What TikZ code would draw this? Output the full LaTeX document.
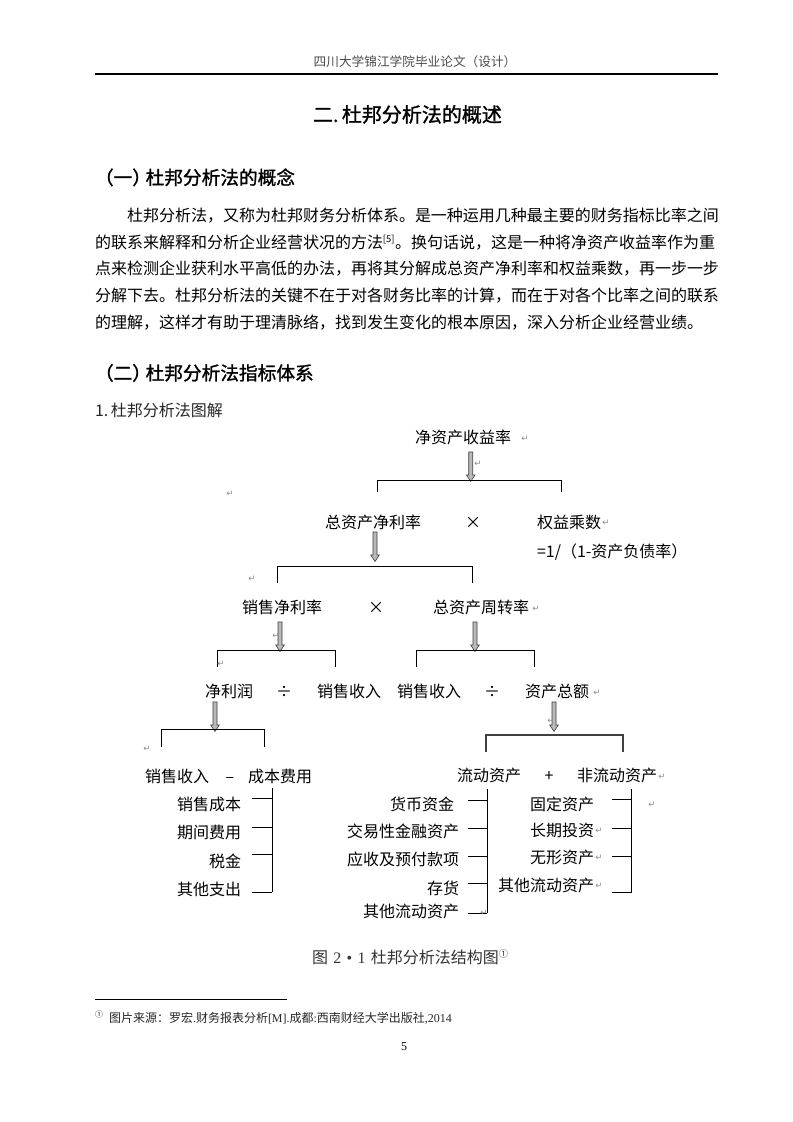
\documentclass[tikz,border=0pt]{standalone}
\usepackage{fontspec}
\setmainfont{Noto Sans CJK SC}
\newfontfamily\hei[FakeBold=1.3]{Noto Sans CJK SC}
\newfontfamily\dv{DejaVu Sans}
\newfontfamily\lserif{Liberation Serif}
\newcommand\setfs[1]{\fontsize{#1}{#1}\selectfont}
\tikzset{
  tx/.style={inner sep=0pt, outer sep=0pt},
  lt/.style={tx, anchor=base west, font=\setfs{12}},
  rt/.style={tx, anchor=base east, font=\setfs{12}},
  ct/.style={tx, anchor=base, font=\setfs{12}},
  body/.style={tx, anchor=base west, font=\setfs{12}},
  head/.style={tx, anchor=base west, font=\hei\setfs{14}},
  rm/.style={tx, anchor=center, font=\dv\setfs{6.5}, text=black!45},
  ln/.style={line width=0.75pt, draw=black},
  harrow/.pic={\filldraw[fill=gray!55, draw=black!75, line width=0.45pt]
     (-2,0) -- (-2,23) -- (-4.3,23) -- (0,29.5) -- (4.3,23) -- (2,23) -- (2,0) -- cycle;}
}
\begin{document}
\begin{tikzpicture}[x=0.75pt, y=-0.75pt]
\useasboundingbox (0,0) rectangle (793,1122);
\fill[white] (0,0) rectangle (793,1122);

% ---------- page header ----------
\node[tx, anchor=base, font=\setfs{9.5}, text=black!70] (hdr) at (415,66.5) {四川大学锦江学院毕业论文（设计）};
\coordinate (hrL) at (95,74);
\coordinate (hrR) at (718,74);
\draw[line width=0.8pt] (hrL) -- (hrR);

% ---------- title and headings ----------
\node[tx, anchor=base west, font=\hei\setfs{15}] (title) at (313,122) {二.\,杜邦分析法的概述};
\node[head] (h1) at (95,184.5) {（一）\hspace{-4pt}杜邦分析法的概念};
\node[body] (p1) at (127,221.5) {杜邦分析法，又称为杜邦财务分析体系。是一种运用几种最主要的财务指标比率之间};
\node[body] (p2) at (95,248) {的联系来解释和分析企业经营状况的方法\textsuperscript{\setfs{7}[5]}。换句话说，这是一种将净资产收益率作为重};
\node[body] (p3) at (95,274.5) {点来检测企业获利水平高低的办法，再将其分解成总资产净利率和权益乘数，再一步一步};
\node[body] (p4) at (95,301) {分解下去。杜邦分析法的关键不在于对各财务比率的计算，而在于对各个比率之间的联系};
\node[body] (p5) at (95,328) {的理解，这样才有助于理清脉络，找到发生变化的根本原因，深入分析企业经营业绩。};
\node[head] (h2) at (95,380) {（二）\hspace{-4pt}杜邦分析法指标体系};
\node[body, text=black!85] (h3) at (95,416.5) {1.\,杜邦分析法图解};

% ---------- level 0 ----------
\node[lt] (roe) at (415,443) {净资产收益率};
\pic at (470.7,452) {harrow};
\draw[ln] (377,492) -- (377,480) -- (561,480) -- (561,492);

% ---------- level 1 ----------
\node[lt] (roa) at (325,528) {总资产净利率};
\node[ct] (x1) at (473,528) {×};
\node[lt] (em) at (537,528) {权益乘数};
\node[lt] (emf) at (537,557) {=1/（1-资产负债率）};
\pic at (375,532) {harrow};
\draw[ln] (277,583) -- (277,566) -- (472,566) -- (472,583);

% ---------- level 2 ----------
\node[lt] (npm) at (242,613) {销售净利率};
\node[ct] (x2) at (376,613) {×};
\node[lt] (tat) at (433,613) {总资产周转率};
\pic at (280,622) {harrow};
\pic at (475,622) {harrow};
\draw[ln] (217,667) -- (217,650) -- (335,650) -- (335,667);
\draw[ln] (416,667) -- (416,650) -- (534,650) -- (534,667);

% ---------- level 3 ----------
\node[lt] (np) at (205,697) {净利润};
\node[ct] (d1) at (284,697) {÷};
\node[lt] (s1) at (317,697) {销售收入};
\node[lt] (s2) at (397,697) {销售收入};
\node[ct] (d2) at (492,697) {÷};
\node[lt] (ta) at (525,697) {资产总额};
\pic at (215,702) {harrow};
\pic at (554,702) {harrow};
\draw[ln] (161,747) -- (161,729) -- (264,729) -- (264,747);
\draw[line width=1.5pt, draw=black!75] (486,752) -- (486,735) -- (623,735) -- (623,752);

% ---------- level 4 ----------
\node[lt] (s3) at (145,782) {销售收入};
\node[ct] (m1) at (230,782) {–};
\node[lt] (cost) at (248,782) {成本费用};
\node[lt] (ca) at (457,781) {流动资产};
\node[ct] (p) at (549,781) {+};
\node[lt] (nca) at (577,781) {非流动资产};

% cost items
\node[rt] (c1) at (241,810) {销售成本};
\node[rt] (c2) at (241,838) {期间费用};
\node[rt] (c3) at (241,867) {税金};
\node[rt] (c4) at (241,895) {其他支出};
\draw[ln] (272,788) -- (272,892);
\draw[ln] (252,798) -- (272,798);
\draw[ln] (252,827) -- (272,827);
\draw[ln] (252,854) -- (272,854);
\draw[ln] (252,892) -- (272,892);

% current assets
\node[rt] (a1) at (454,810) {货币资金};
\node[rt] (a2) at (459,837) {交易性金融资产};
\node[rt] (a3) at (459,865) {应收及预付款项};
\node[rt] (a4) at (459,894) {存货};
\node[rt] (a5) at (459,917) {其他流动资产};
\draw[ln] (487,789) -- (487,913);
\draw[ln] (468,800) -- (487,800);
\draw[ln] (468,828) -- (487,828);
\draw[ln] (468,856) -- (487,856);
\draw[ln] (468,883) -- (487,883);
\draw[ln] (468,913) -- (487,913);

% non-current assets
\node[rt] (b1) at (594,810) {固定资产};
\node[rt] (b2) at (594,836) {长期投资};
\node[rt] (b3) at (594,863) {无形资产};
\node[rt] (b4) at (594,891) {其他流动资产};
\draw[ln] (631,789) -- (631,893);
\draw[ln] (612,799) -- (631,799);
\draw[ln] (612,828) -- (631,828);
\draw[ln] (612,856) -- (631,856);
\draw[ln] (612,892) -- (631,892);

% paragraph marks
\node[rm] (r1) at (525,439) {↵};
\node[rm] (r2) at (478,464) {↵};
\node[rm] (r3) at (230,494) {↵};
\node[rm] (r4) at (606,523) {↵};
\node[rm] (r5) at (252,579) {↵};
\node[rm] (r6) at (536,609) {↵};
\node[rm] (r7) at (276,636) {↵};
\node[rm] (r8) at (221,664) {↵};
\node[rm] (r9) at (597,693) {↵};
\node[rm] (r10) at (551,721) {↵};
\node[rm] (r11) at (147,749) {↵};
\node[rm] (r12) at (662,777) {↵};
\node[rm] (r13) at (652,805) {↵};
\node[rm] (r14) at (599,831) {↵};
\node[rm] (r15) at (599,858) {↵};
\node[rm] (r16) at (599,886) {↵};
\node[rm] (r17) at (484,913) {↵};

% ---------- caption and footnote ----------
\node[tx, anchor=base west, font=\setfs{12}, text=black!80] (cap) at (312,963) {图{\lserif\hspace{4pt}2\hspace{4pt}•\hspace{4pt}1\hspace{4pt}}杜邦分析法结构图\textsuperscript{\setfs{7}①}};
\coordinate (fnL) at (95,999);
\coordinate (fnR) at (287,999);
\draw[line width=0.6pt] (fnL) -- (fnR);
\node[tx, anchor=base west, font=\setfs{9}, text=black!85] (fn) at (95,1022.5) {\textsuperscript{\setfs{6}①}\hspace{4pt}图片来源：罗宏{\lserif.}财务报表分析{\lserif[M].}成都{\lserif:}西南财经大学出版社{\lserif,2014}};
\node[tx, anchor=base, font=\lserif\setfs{9}] (pg) at (404,1050) {5};
\end{tikzpicture}
\end{document}
